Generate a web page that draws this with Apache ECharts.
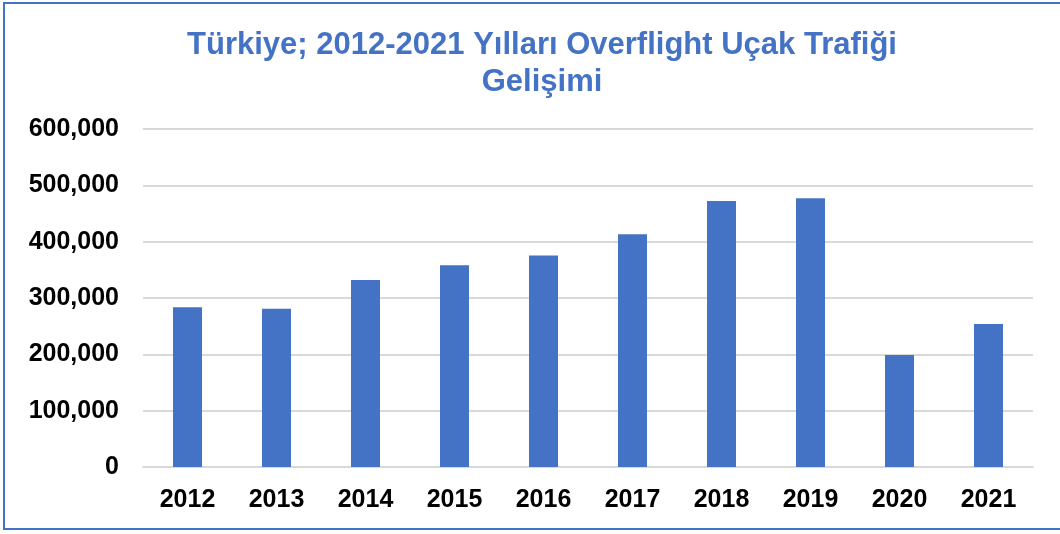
<!DOCTYPE html>
<html>
<head>
<meta charset="utf-8">
<script src="https://cdn.jsdelivr.net/npm/echarts@6/dist/echarts.min.js"></script>
<style>
  html, body { margin: 0; padding: 0; background: #fff; }
  #frame { position: absolute; left: 3px; top: 2px; width: 1060px; height: 528px; border: 2px solid #4472c4; box-sizing: border-box; }
  #chart { position: absolute; left: 0; top: 0; width: 1060px; height: 534px; }
</style>
</head>
<body>
<div id="frame"></div>
<div id="chart"></div>
<script>
  // Overflight traffic by year
  const years = ['2012', '2013', '2014', '2015', '2016', '2017', '2018', '2019', '2020', '2021'];
  const flights = [283500, 281000, 332000, 358000, 375500, 413000, 472000, 477000, 199000, 254000];

  const chart = echarts.init(document.getElementById('chart'));

  const option = {
    animation: false,
    title: {
      text: 'Türkiye; 2012-2021 Yılları Overflight Uçak Trafiği\nGelişimi',
      left: 537,
      textAlign: 'center',
      top: 22,
      textStyle: {
        fontFamily: 'Liberation Sans',
        fontWeight: 'bold',
        fontSize: 31,
        lineHeight: 37,
        color: '#4472c4',
      },
    },
    grid: { left: 143, right: 27, top: 129, bottom: 67 },
    xAxis: {
      type: 'category',
      data: years,
      axisTick: { show: false },
      axisLine: { lineStyle: { color: '#d9d9d9', width: 2 } },
      axisLabel: {
        margin: 21,
        color: '#000',
        fontFamily: 'Liberation Sans',
        fontWeight: 'bold',
        fontSize: 25,
      },
    },
    yAxis: {
      type: 'value',
      min: 0,
      max: 600000,
      interval: 100000,
      axisLabel: {
        margin: 24,
        color: '#000',
        fontFamily: 'Liberation Sans',
        fontWeight: 'bold',
        fontSize: 25,
        formatter: (v) => v.toLocaleString('en-US'),
      },
      splitLine: { lineStyle: { color: '#d9d9d9', width: 2 } },
    },
    series: [
      {
        type: 'bar',
        data: flights,
        barWidth: 29,
        itemStyle: { color: '#4472c4' },
      },
    ],
  };

  chart.setOption(option);
</script>
</body>
</html>
